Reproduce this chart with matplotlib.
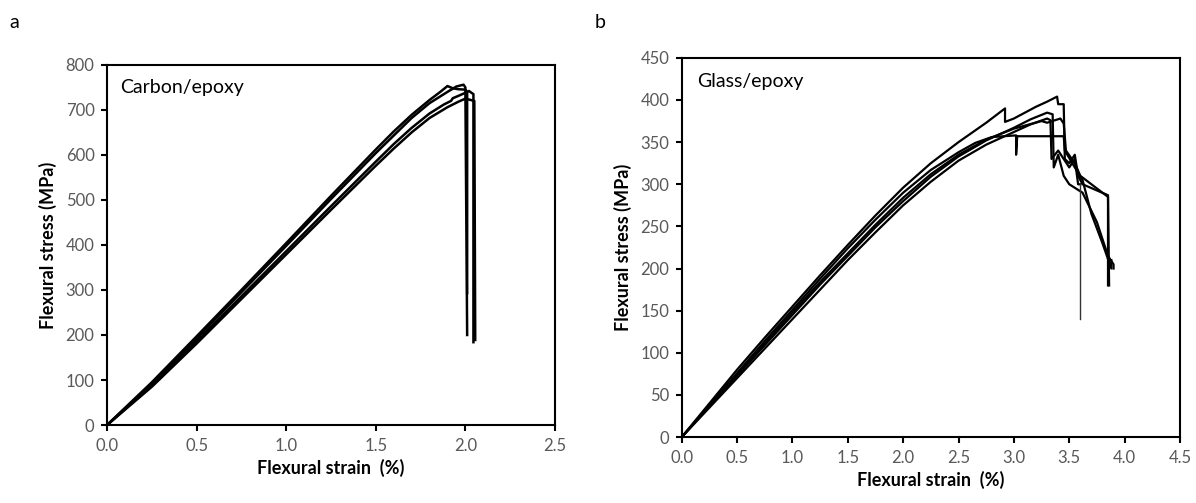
from matplotlib import pyplot as plt

plt.rcParams['font.family'] = ['Lato', 'DejaVu Sans']

# carbon/epoxy specimens: strain (%), stress (MPa)
carbon_strain_1 = [0, 0.25, 0.5, 0.75, 1.0, 1.25, 1.5, 1.6, 1.7, 1.8, 1.86, 1.90, 1.93, 1.96, 2.00, 2.01, 2.01]
carbon_stress_1 = [0, 95, 197, 300, 404, 509, 612, 652, 689, 722, 740, 753, 748, 746, 745, 740, 293]
carbon_strain_2 = [0, 0.25, 0.5, 0.75, 1.0, 1.25, 1.5, 1.6, 1.7, 1.8, 1.9, 1.95, 1.99, 2.00, 2.01]
carbon_stress_2 = [0, 92, 192, 295, 398, 502, 604, 643, 682, 715, 740, 752, 756, 750, 200]
carbon_strain_3 = [0, 0.25, 0.5, 0.75, 1.0, 1.25, 1.5, 1.6, 1.7, 1.8, 1.88, 1.92, 1.93, 1.96, 2.0, 2.02, 2.045, 2.045]
carbon_stress_3 = [0, 88, 186, 286, 386, 486, 585, 624, 660, 692, 712, 720, 726, 731, 738, 742, 735, 184]
carbon_strain_4 = [0, 0.25, 0.5, 0.75, 1.0, 1.25, 1.5, 1.6, 1.7, 1.8, 1.9, 1.96, 2.0, 2.05, 2.055]
carbon_stress_4 = [0, 85, 181, 280, 379, 478, 576, 614, 650, 682, 706, 718, 725, 720, 189]

# glass/epoxy specimens
glass_strain_1 = [0, 0.25, 0.5, 0.75, 1.0, 1.25, 1.5, 1.75, 2.0, 2.25, 2.5, 2.75, 2.92, 2.92, 3.0, 3.1, 3.2, 3.3, 3.39, 3.40, 3.45, 3.46, 3.5, 3.55, 3.58, 3.62, 3.85, 3.86]
glass_stress_1 = [0, 40, 80, 118, 155, 192, 228, 263, 296, 325, 350, 373, 390, 374, 378, 385, 392, 398, 404, 395, 395, 330, 325, 335, 310, 300, 287, 180]
glass_strain_2 = [0, 0.25, 0.5, 0.75, 1.0, 1.25, 1.5, 1.75, 2.0, 2.25, 2.5, 2.75, 3.0, 3.15, 3.3, 3.35, 3.36, 3.4, 3.45, 3.5, 3.62, 3.75, 3.85, 3.9, 3.9]
glass_stress_2 = [0, 37, 73, 109, 145, 181, 215, 249, 280, 309, 333, 352, 367, 377, 385, 383, 320, 335, 310, 300, 290, 255, 215, 205, 200]
glass_strain_3 = [0, 0.25, 0.5, 0.75, 1.0, 1.25, 1.5, 1.75, 2.0, 2.25, 2.5, 2.75, 3.0, 3.15, 3.3, 3.33, 3.34, 3.4, 3.5, 3.55, 3.58, 3.6]
glass_stress_3 = [0, 35, 70, 105, 140, 175, 210, 243, 275, 303, 328, 347, 362, 371, 378, 376, 330, 340, 320, 330, 300, 300]
glass_strain_4 = [0, 0.25, 0.5, 0.75, 1.0, 1.25, 1.5, 1.75, 2.0, 2.25, 2.5, 2.65, 2.8, 3.02, 3.02, 3.03, 3.45, 3.46, 3.55, 3.62, 3.7, 3.8, 3.88, 3.88]
glass_stress_4 = [0, 38, 76, 114, 151, 188, 224, 258, 290, 317, 338, 349, 356, 358, 335, 357, 357, 340, 320, 305, 265, 230, 200, 210]
glass_strain_5 = [0, 0.25, 0.5, 0.75, 1.0, 1.25, 1.5, 1.75, 2.0, 2.25, 2.5, 2.75, 3.0, 3.25, 3.3, 3.42, 3.45, 3.47, 3.55, 3.6, 3.85, 3.85]
glass_stress_5 = [0, 37, 74, 111, 148, 184, 218, 252, 284, 312, 335, 353, 366, 375, 373, 378, 372, 340, 325, 310, 285, 180]
glass_drop_strain = [3.6, 3.6]
glass_drop_stress = [300, 140]

carbon_xticks = [0.0, 0.5, 1.0, 1.5, 2.0, 2.5]
carbon_yticks = list(range(0, 801, 100))
glass_xticks = [0.0, 0.5, 1.0, 1.5, 2.0, 2.5, 3.0, 3.5, 4.0, 4.5]
glass_yticks = list(range(0, 451, 50))

TICK_COLOR = '#595959'

def style_axes(ax, xticks, yticks):
    for spine in ax.spines.values():
        spine.set_linewidth(1.5)
        spine.set_color('black')
    ax.set_xlim(xticks[0], xticks[-1])
    ax.set_ylim(yticks[0], yticks[-1])
    ax.set_xticks(xticks)
    ax.set_xticklabels(['{:.1f}'.format(t) for t in xticks])
    ax.set_yticks(yticks)
    ax.tick_params(direction='out', length=4, width=1.5, labelsize=12,
                   labelcolor=TICK_COLOR, pad=5)
    ax.set_xlabel('Flexural strain  (%)', fontsize=13, fontweight='bold', labelpad=4)
    ax.set_ylabel('Flexural stress (MPa)', fontsize=13, fontweight='bold', labelpad=6)

def main():
    fig = plt.figure(figsize=(11.96, 5.03), dpi=100)
    ax1 = fig.add_axes([0.0895, 0.155, 0.3745, 0.716])
    ax2 = fig.add_axes([0.570, 0.131, 0.4166, 0.754])

    carbon = [(carbon_strain_1, carbon_stress_1), (carbon_strain_2, carbon_stress_2),
              (carbon_strain_3, carbon_stress_3), (carbon_strain_4, carbon_stress_4)]
    for x, y in carbon:
        ax1.plot(x, y, color='black', lw=1.8)
    style_axes(ax1, carbon_xticks, carbon_yticks)
    ax1.text(0.03, 0.96, 'Carbon/epoxy', transform=ax1.transAxes, fontsize=14,
             va='top', ha='left')

    glass = [(glass_strain_1, glass_stress_1), (glass_strain_2, glass_stress_2),
             (glass_strain_3, glass_stress_3), (glass_strain_4, glass_stress_4),
             (glass_strain_5, glass_stress_5)]
    for x, y in glass:
        ax2.plot(x, y, color='black', lw=1.6)
    ax2.plot(glass_drop_strain, glass_drop_stress, color='#333333', lw=1.0)
    style_axes(ax2, glass_xticks, glass_yticks)
    ax2.text(0.03, 0.96, 'Glass/epoxy', transform=ax2.transAxes, fontsize=14,
             va='top', ha='left')

    fig.text(0.008, 0.955, 'a', fontsize=14, va='center')
    fig.text(0.497, 0.955, 'b', fontsize=14, va='center')

    fig.savefig('out.png', dpi=100)

if __name__ == "__main__":
    main()
